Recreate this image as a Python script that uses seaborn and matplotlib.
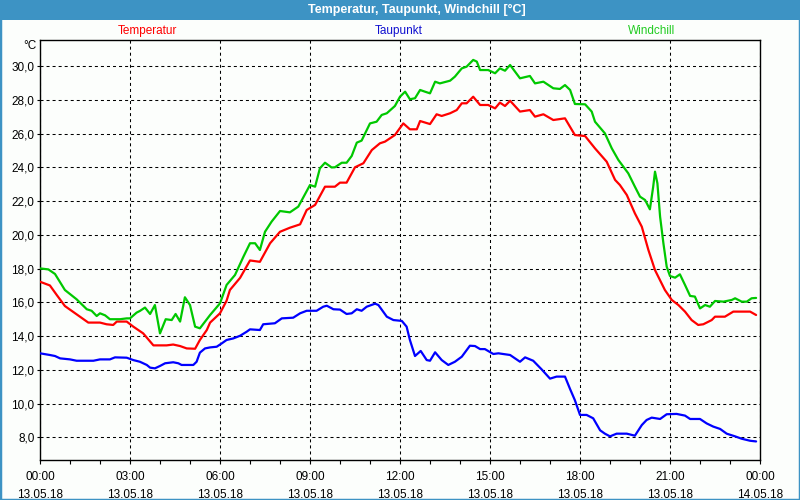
import matplotlib
matplotlib.use("Agg")
import matplotlib.pyplot as plt
from matplotlib.patches import Rectangle
import seaborn as sns
import pandas as pd

# ---- data (time in hours since 13.05.18 00:00, values in °C) ----
temp_t = [0.00, 0.33, 0.56, 0.83, 1.22, 1.61, 2.00, 2.22, 2.44, 2.56, 2.89, 3.11, 3.44, 3.78,
          4.22, 4.44, 4.67, 4.89, 5.17, 5.33, 5.56, 5.67, 6.00, 6.22, 6.33, 6.67, 7.00, 7.33,
          7.67, 8.00, 8.33, 8.67, 8.89, 9.17, 9.50, 9.83, 10.00, 10.22, 10.50, 10.78, 11.06,
          11.33, 11.50, 11.83, 12.11, 12.33, 12.56, 12.67, 13.00, 13.22, 13.39, 13.67, 13.89,
          14.06, 14.22, 14.44, 14.67, 14.94, 15.17, 15.33, 15.50, 15.67, 16.00, 16.33, 16.50,
          16.78, 17.11, 17.50, 17.83, 18.17, 18.50, 18.89, 19.17, 19.33, 19.56, 19.83, 20.06,
          20.28, 20.50, 20.83, 21.06, 21.28, 21.50, 21.72, 21.94, 22.11, 22.39, 22.50, 22.83,
          23.11, 23.67, 23.87]
temp_v = [17.22, 17.0, 16.43, 15.78, 15.29, 14.8, 14.8, 14.7, 14.66, 14.86, 14.86, 14.56, 14.16, 13.45,
          13.45, 13.5, 13.41, 13.27, 13.25, 13.77, 14.36, 14.8, 15.35, 16.1, 16.73, 17.45, 18.48, 18.4,
          19.5, 20.18, 20.42, 20.62, 21.47, 21.77, 22.85, 22.85, 23.09, 23.09, 24.0, 24.24, 25.02,
          25.42, 25.52, 25.91, 26.6, 26.25, 26.25, 26.74, 26.56, 27.14, 27.04, 27.2, 27.39,
          27.79, 27.79, 28.18, 27.69, 27.69, 27.49, 27.83, 27.63, 27.94, 27.3, 27.39, 27.0,
          27.14, 26.8, 26.9, 25.91, 25.85, 25.12, 24.33, 23.25, 22.95, 22.36, 21.27, 20.48,
          19.1, 17.91, 16.73, 16.14, 15.84, 15.45, 14.95, 14.66, 14.7, 14.95, 15.15, 15.15,
          15.45, 15.45, 15.25]

wind_t = [0.00, 0.28, 0.50, 0.83, 1.22, 1.56, 1.72, 1.89, 2.00, 2.17, 2.33, 2.67, 2.89, 3.00, 3.22,
          3.33, 3.50, 3.67, 3.83, 4.00, 4.19, 4.39, 4.52, 4.67, 4.83, 5.00, 5.17, 5.33, 5.67, 6.00,
          6.22, 6.50, 6.78, 7.00, 7.17, 7.33, 7.50, 7.72, 8.00, 8.33, 8.61, 9.00, 9.17, 9.33, 9.50,
          9.72, 9.83, 10.06, 10.22, 10.39, 10.56, 10.72, 11.00, 11.22, 11.39, 11.56, 11.83, 12.00,
          12.17, 12.33, 12.50, 12.67, 12.83, 13.00, 13.17, 13.33, 13.67, 13.83, 14.06, 14.22, 14.44,
          14.56, 14.67, 14.94, 15.17, 15.33, 15.50, 15.67, 16.00, 16.33, 16.50, 16.78, 17.11, 17.33,
          17.50, 17.67, 17.83, 18.17, 18.39, 18.50, 18.83, 19.06, 19.28, 19.61, 19.83, 20.00, 20.17,
          20.33, 20.44, 20.50, 20.58, 20.67, 20.78, 20.89, 21.00, 21.17, 21.33, 21.50, 21.67, 21.83,
          22.00, 22.17, 22.33, 22.50, 22.78, 23.06, 23.17, 23.39, 23.56, 23.72, 23.87]
wind_v = [18.01, 17.95, 17.68, 16.73, 16.18, 15.59, 15.5, 15.19, 15.35, 15.23, 15.0, 15.0, 15.05, 15.05, 15.39,
          15.49, 15.69, 15.31, 15.84, 14.16, 15.0, 14.95, 15.31, 14.86, 16.3, 15.84, 14.56, 14.46, 15.25, 15.94,
          17.03, 17.62, 18.7, 19.5, 19.5, 19.1, 20.18, 20.78, 21.41, 21.33, 21.67, 22.95, 22.85, 23.94, 24.27,
          23.99, 24.0, 24.27, 24.27, 24.67, 25.46, 25.58, 26.6, 26.7, 27.1, 27.2, 27.63, 28.18,
          28.48, 28.03, 28.09, 28.58, 28.48, 28.38, 29.07, 28.97, 29.13, 29.37, 29.86, 29.96, 30.36,
          30.26, 29.76, 29.76, 29.57, 29.86, 29.72, 30.06, 29.27, 29.41, 28.97, 29.07, 28.68, 28.64,
          28.87, 28.58, 27.75, 27.73, 27.3, 26.7, 26.01, 25.12, 24.43, 23.64, 22.85, 22.26, 22.06,
          21.51, 22.85, 23.74, 23.05, 21.07, 19.5, 18.11, 17.56, 17.46, 17.66, 17.03, 16.38, 16.34,
          15.64, 15.84, 15.74, 16.08, 16.04, 16.14, 16.24, 16.04, 16.04, 16.24, 16.26]

dew_t = [0.00, 0.33, 0.50, 0.67, 1.00, 1.22, 1.78, 2.00, 2.33, 2.50, 2.89, 3.11, 3.33, 3.56, 3.67, 3.83,
         4.00, 4.17, 4.44, 4.61, 4.72, 5.11, 5.22, 5.33, 5.50, 5.67, 5.89, 6.06, 6.22, 6.44, 6.67, 6.89,
         7.00, 7.33, 7.44, 7.83, 8.06, 8.44, 8.67, 8.89, 9.22, 9.44, 9.56, 9.78, 10.00, 10.22, 10.39,
         10.56, 10.72, 10.89, 11.17, 11.28, 11.56, 11.78, 12.06, 12.22, 12.33, 12.50, 12.69, 12.89,
         13.00, 13.17, 13.39, 13.61, 13.83, 14.06, 14.33, 14.50, 14.67, 14.83, 15.11, 15.28, 15.67,
         16.00, 16.17, 16.44, 16.72, 17.00, 17.22, 17.50, 17.67, 17.83, 18.00, 18.22, 18.44, 18.67,
         18.83, 19.00, 19.22, 19.56, 19.83, 20.06, 20.22, 20.39, 20.67, 20.89, 21.22, 21.50, 21.67,
         22.00, 22.22, 22.44, 22.67, 22.89, 23.17, 23.39, 23.67, 23.87]
dew_v = [12.98, 12.88, 12.82, 12.68, 12.62, 12.54, 12.54, 12.62, 12.62, 12.74, 12.72, 12.58, 12.48, 12.29, 12.13, 12.09,
         12.23, 12.39, 12.45, 12.39, 12.29, 12.29, 12.48, 13.02, 13.27, 13.33, 13.37, 13.57, 13.77, 13.86, 14.02, 14.26,
         14.4, 14.36, 14.7, 14.76, 15.05, 15.09, 15.35, 15.5, 15.5, 15.74, 15.8, 15.59, 15.57, 15.31, 15.35,
         15.59, 15.5, 15.74, 15.92, 15.84, 15.15, 14.95, 14.9, 14.56, 13.77, 12.82, 13.12, 12.58,
         12.54, 13.04, 12.58, 12.29, 12.48, 12.78, 13.43, 13.41, 13.23, 13.23, 12.94, 12.98, 12.88,
         12.48, 12.74, 12.54, 12.03, 11.48, 11.6, 11.6, 10.86, 10.2, 9.33, 9.33, 9.13, 8.42,
         8.22, 8.06, 8.22, 8.22, 8.1, 8.73, 9.03, 9.17, 9.09, 9.37, 9.39, 9.29, 9.09,
         9.09, 8.83, 8.64, 8.5, 8.22, 8.06, 7.92, 7.8, 7.76]

series_names = ["Temperatur", "Taupunkt", "Windchill"]
title = "Temperatur, Taupunkt, Windchill [°C]"
y_ticks = [8, 10, 12, 14, 16, 18, 20, 22, 24, 26, 28, 30]
x_ticks = [0, 3, 6, 9, 12, 15, 18, 21, 24]
x_labels = ["00:00\n13.05.18", "03:00\n13.05.18", "06:00\n13.05.18", "09:00\n13.05.18",
            "12:00\n13.05.18", "15:00\n13.05.18", "18:00\n13.05.18", "21:00\n13.05.18",
            "00:00\n14.05.18"]

# ---- style ----
sns.set_style("white")
plt.rcParams["font.family"] = ["Liberation Sans", "DejaVu Sans"]

BLUE_FRAME = "#3d93c4"
BG = "#fcfefc"
C_TEMP = "#ff0000"
C_DEW = "#0000ff"
C_WIND = "#00c800"

fig = plt.figure(figsize=(8, 5), dpi=100, facecolor=BG)
ax = fig.add_axes([40 / 800, 40 / 500, 720 / 800, 420 / 500])
ax.set_facecolor(BG)

df_t = pd.DataFrame({"t": temp_t, "v": temp_v})
df_w = pd.DataFrame({"t": wind_t, "v": wind_v})
df_d = pd.DataFrame({"t": dew_t, "v": dew_v})

sns.lineplot(data=df_t, x="t", y="v", ax=ax, color=C_TEMP, linewidth=1.6, zorder=3)
sns.lineplot(data=df_d, x="t", y="v", ax=ax, color=C_DEW, linewidth=1.6, zorder=3)
sns.lineplot(data=df_w, x="t", y="v", ax=ax, color=C_WIND, linewidth=1.6, zorder=3)

ax.set_xlim(0, 24)
ax.set_ylim(6.66, 31.54)
ax.set_xlabel("")
ax.set_ylabel("")

ax.set_yticks(y_ticks)
ax.set_yticklabels([f"{v:.1f}".replace(".", ",") for v in y_ticks], fontsize=8.5, color="#000000")
ax.set_xticks(x_ticks)
ax.set_xticklabels(x_labels, fontsize=8.5, color="#000000", linespacing=1.6)
ax.set_xticks(range(0, 25), minor=True)
ax.tick_params(axis="x", which="both", direction="out", length=3, width=0.8, color="black", pad=5, bottom=True)
ax.tick_params(axis="y", which="both", direction="out", length=2, width=0.8, color="black", pad=2, left=True)

ax.grid(True, which="major", color="black", linewidth=0.75, linestyle=(0, (2.9, 2.9)))
for s in ax.spines.values():
    s.set_visible(True)
    s.set_color("black")
    s.set_linewidth(1.0)

# header bar
fig.patches.append(Rectangle((0, 480 / 500), 1, 20 / 500, transform=fig.transFigure,
                             facecolor=BLUE_FRAME, edgecolor="none", zorder=0))
fig.text(417 / 800, 490 / 500, title, color="white", fontsize=9, fontweight="bold",
         ha="center", va="center")
# frame border
fig.patches.append(Rectangle((0, 0), 1, 1, transform=fig.transFigure, fill=False,
                             edgecolor=BLUE_FRAME, linewidth=2.5, zorder=5))

# series labels
fig.text(147 / 800, 1 - 31 / 500, series_names[0], color=C_TEMP, fontsize=8.5, ha="center", va="center")
fig.text(399 / 800, 1 - 31 / 500, series_names[1], color="#1010d0", fontsize=8.5, ha="center", va="center")
fig.text(652 / 800, 1 - 31 / 500, series_names[2], color="#22cc22", fontsize=8.5, ha="center", va="center")
# unit label
fig.text(37 / 800, 1 - 46 / 500, "°C", color="black", fontsize=8.5, ha="right", va="center")

fig.savefig("out.png", dpi=100, facecolor=BG)
